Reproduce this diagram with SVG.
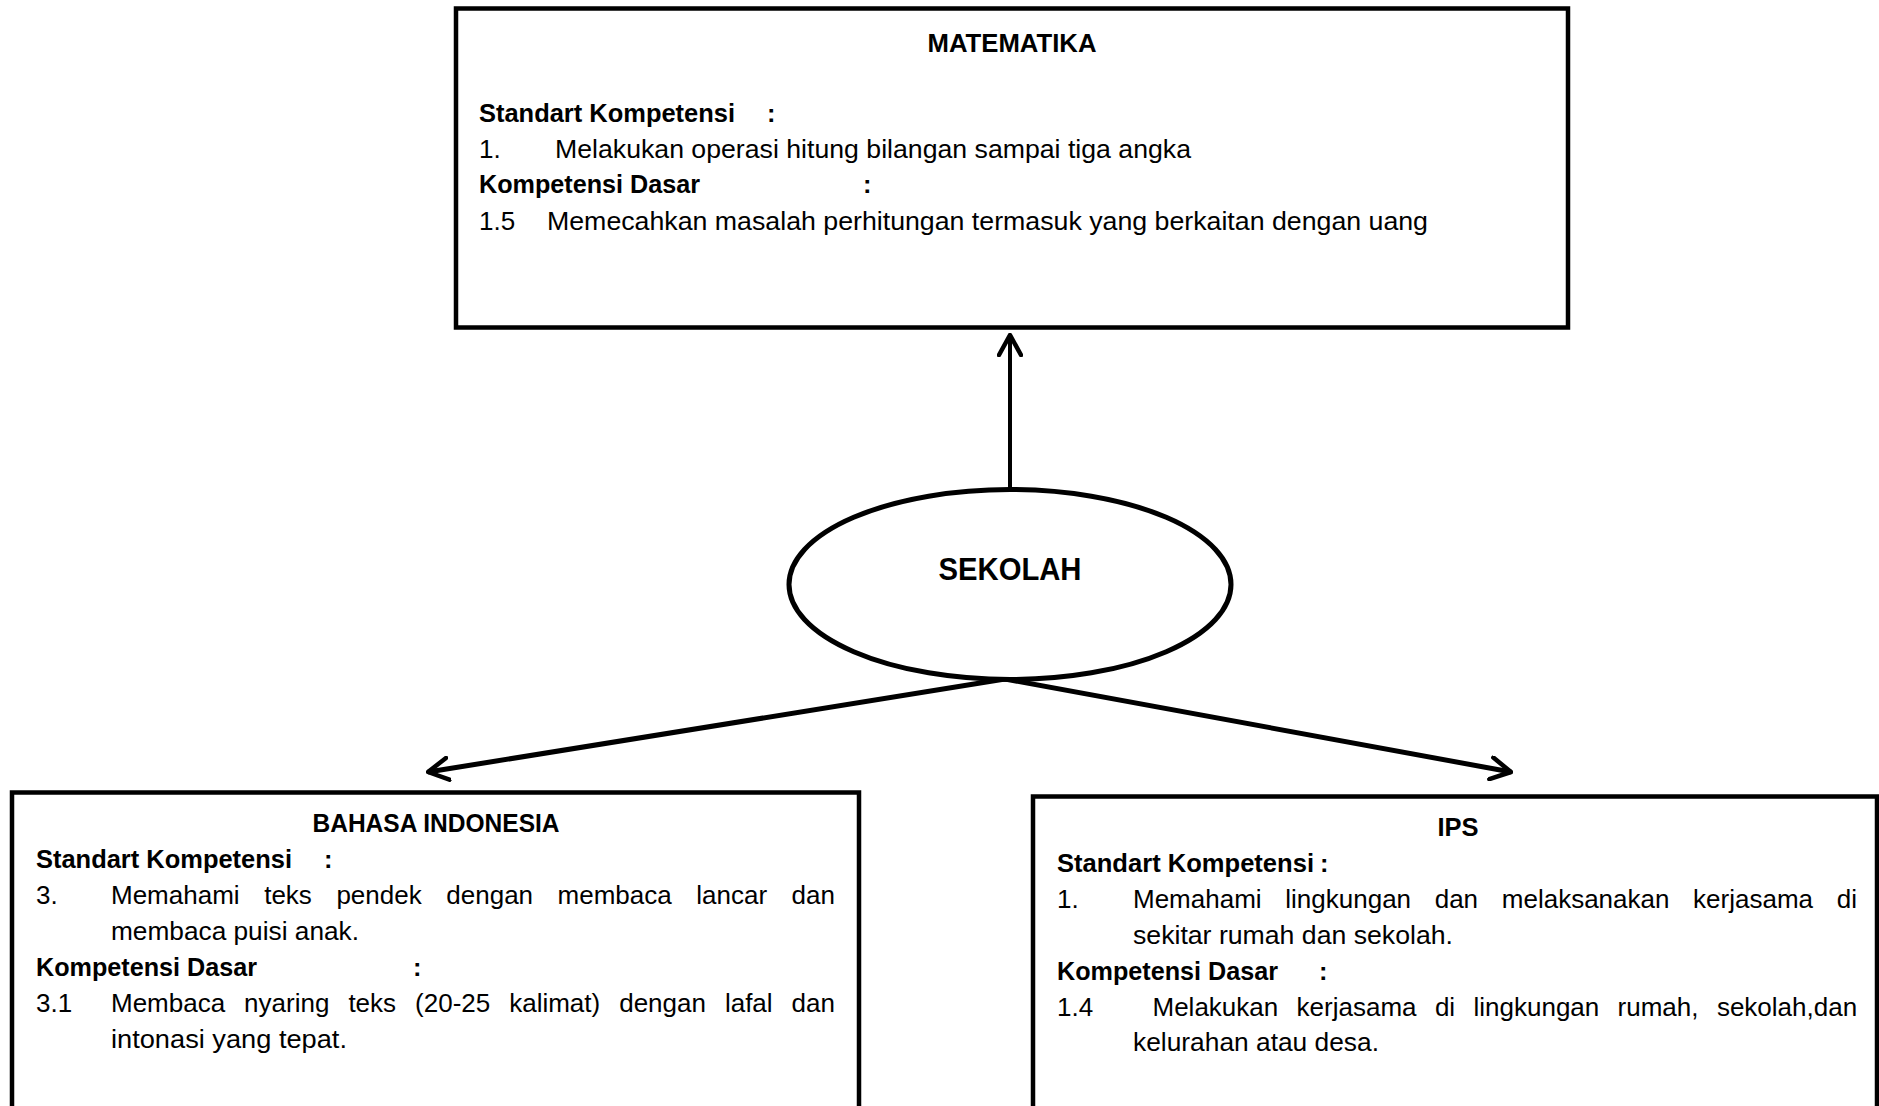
<svg xmlns="http://www.w3.org/2000/svg" width="1879" height="1106" viewBox="0 0 1879 1106">
<style>
.box{fill:#fff;stroke:#000;stroke-width:4.5}
.ell{fill:#fff;stroke:#000;stroke-width:5}
.t{font-family:"Liberation Sans",Arial,sans-serif;font-size:26px;fill:#000}
.b{font-family:"Liberation Sans",Arial,sans-serif;font-size:25.5px;font-weight:bold;fill:#000}
.c{text-anchor:middle}
.ln{stroke:#000;fill:none;stroke-width:5}
</style>
<defs>
<marker id="arr" markerUnits="userSpaceOnUse" viewBox="0 0 24 26" refX="22" refY="13" markerWidth="24" markerHeight="26" orient="auto">
<path d="M2,2 L22,13 L2,24" fill="none" stroke="#000" stroke-width="4.5" stroke-linecap="round" stroke-linejoin="round"/>
</marker>
</defs>
<rect width="1879" height="1106" fill="#fff"/>
<g id="connectors">
<line class="ln" x1="1010" y1="488" x2="1010" y2="335" style="stroke-width:4" marker-end="url(#arr)"/>
<line class="ln" x1="1005" y1="679" x2="428" y2="772" marker-end="url(#arr)"/>
<line class="ln" x1="1005" y1="679" x2="1511" y2="772" marker-end="url(#arr)"/>
</g>
<g id="matematika">
<rect class="box" x="456" y="8.5" width="1112" height="319"/>
<text class="b c" x="1012" y="52" textLength="169" lengthAdjust="spacingAndGlyphs">MATEMATIKA</text>
<text class="b" x="479" y="122" textLength="256" lengthAdjust="spacingAndGlyphs">Standart Kompetensi</text>
<text class="b" x="767" y="122">:</text>
<text class="t" x="479" y="158">1.</text>
<text class="t" x="555" y="158" textLength="636" lengthAdjust="spacingAndGlyphs">Melakukan operasi hitung bilangan sampai tiga angka</text>
<text class="b" x="479" y="193" textLength="221" lengthAdjust="spacingAndGlyphs">Kompetensi Dasar</text>
<text class="b" x="863" y="193">:</text>
<text class="t" x="479" y="230">1.5</text>
<text class="t" x="547" y="230" textLength="881" lengthAdjust="spacingAndGlyphs">Memecahkan masalah perhitungan termasuk yang berkaitan dengan uang</text>
</g>
<g id="sekolah">
<ellipse class="ell" cx="1010" cy="584.5" rx="221" ry="95"/>
<text class="b c" x="1010" y="580" style="font-size:31px" textLength="143" lengthAdjust="spacingAndGlyphs">SEKOLAH</text>
</g>
<g id="bahasa-indonesia">
<rect class="box" x="12" y="792.5" width="847" height="330"/>
<text class="b c" x="436" y="832" textLength="247" lengthAdjust="spacingAndGlyphs">BAHASA INDONESIA</text>
<text class="b" x="36" y="868" textLength="256" lengthAdjust="spacingAndGlyphs">Standart Kompetensi</text>
<text class="b" x="324" y="868">:</text>
<text class="t" x="36" y="904">3.</text>
<text class="t" y="904"><tspan x="111">Memahami</tspan><tspan x="264.2">teks</tspan><tspan x="336.4">pendek</tspan><tspan x="446.3">dengan</tspan><tspan x="557.6">membaca</tspan><tspan x="696.3">lancar</tspan><tspan x="791.6">dan</tspan></text>
<text class="t" x="111" y="940" textLength="248" lengthAdjust="spacingAndGlyphs">membaca puisi anak.</text>
<text class="b" x="36" y="976" textLength="221" lengthAdjust="spacingAndGlyphs">Kompetensi Dasar</text>
<text class="b" x="413" y="976">:</text>
<text class="t" x="36" y="1012">3.1</text>
<text class="t" y="1012"><tspan x="111">Membaca</tspan><tspan x="244.1">nyaring</tspan><tspan x="348.4">teks</tspan><tspan x="415.1">(20-25</tspan><tspan x="509.2">kalimat)</tspan><tspan x="619.2">dengan</tspan><tspan x="724.9">lafal</tspan><tspan x="791.6">dan</tspan></text>
<text class="t" x="111" y="1048" textLength="236" lengthAdjust="spacingAndGlyphs">intonasi yang tepat.</text>
</g>
<g id="ips">
<rect class="box" x="1033" y="796.5" width="844" height="330"/>
<text class="b c" x="1458" y="836">IPS</text>
<text class="b" x="1057" y="872" textLength="257" lengthAdjust="spacingAndGlyphs">Standart Kompetensi</text>
<text class="b" x="1320" y="872">:</text>
<text class="t" x="1057" y="908">1.</text>
<text class="t" y="908"><tspan x="1133">Memahami</tspan><tspan x="1285.3">lingkungan</tspan><tspan x="1434.7">dan</tspan><tspan x="1501.8">melaksanakan</tspan><tspan x="1693.1">kerjasama</tspan><tspan x="1836.7">di</tspan></text>
<text class="t" x="1133" y="944" textLength="320" lengthAdjust="spacingAndGlyphs">sekitar rumah dan sekolah.</text>
<text class="b" x="1057" y="980" textLength="221" lengthAdjust="spacingAndGlyphs">Kompetensi Dasar</text>
<text class="b" x="1319" y="980">:</text>
<text class="t" x="1057" y="1016">1.4</text>
<text class="t" y="1016"><tspan x="1152.5">Melakukan</tspan><tspan x="1296.6">kerjasama</tspan><tspan x="1434.9">di</tspan><tspan x="1473.5">lingkungan</tspan><tspan x="1617.6">rumah,</tspan><tspan x="1716.9">sekolah,dan</tspan></text>
<text class="t" x="1133" y="1051" textLength="246" lengthAdjust="spacingAndGlyphs">kelurahan atau desa.</text>
</g>
</svg>
